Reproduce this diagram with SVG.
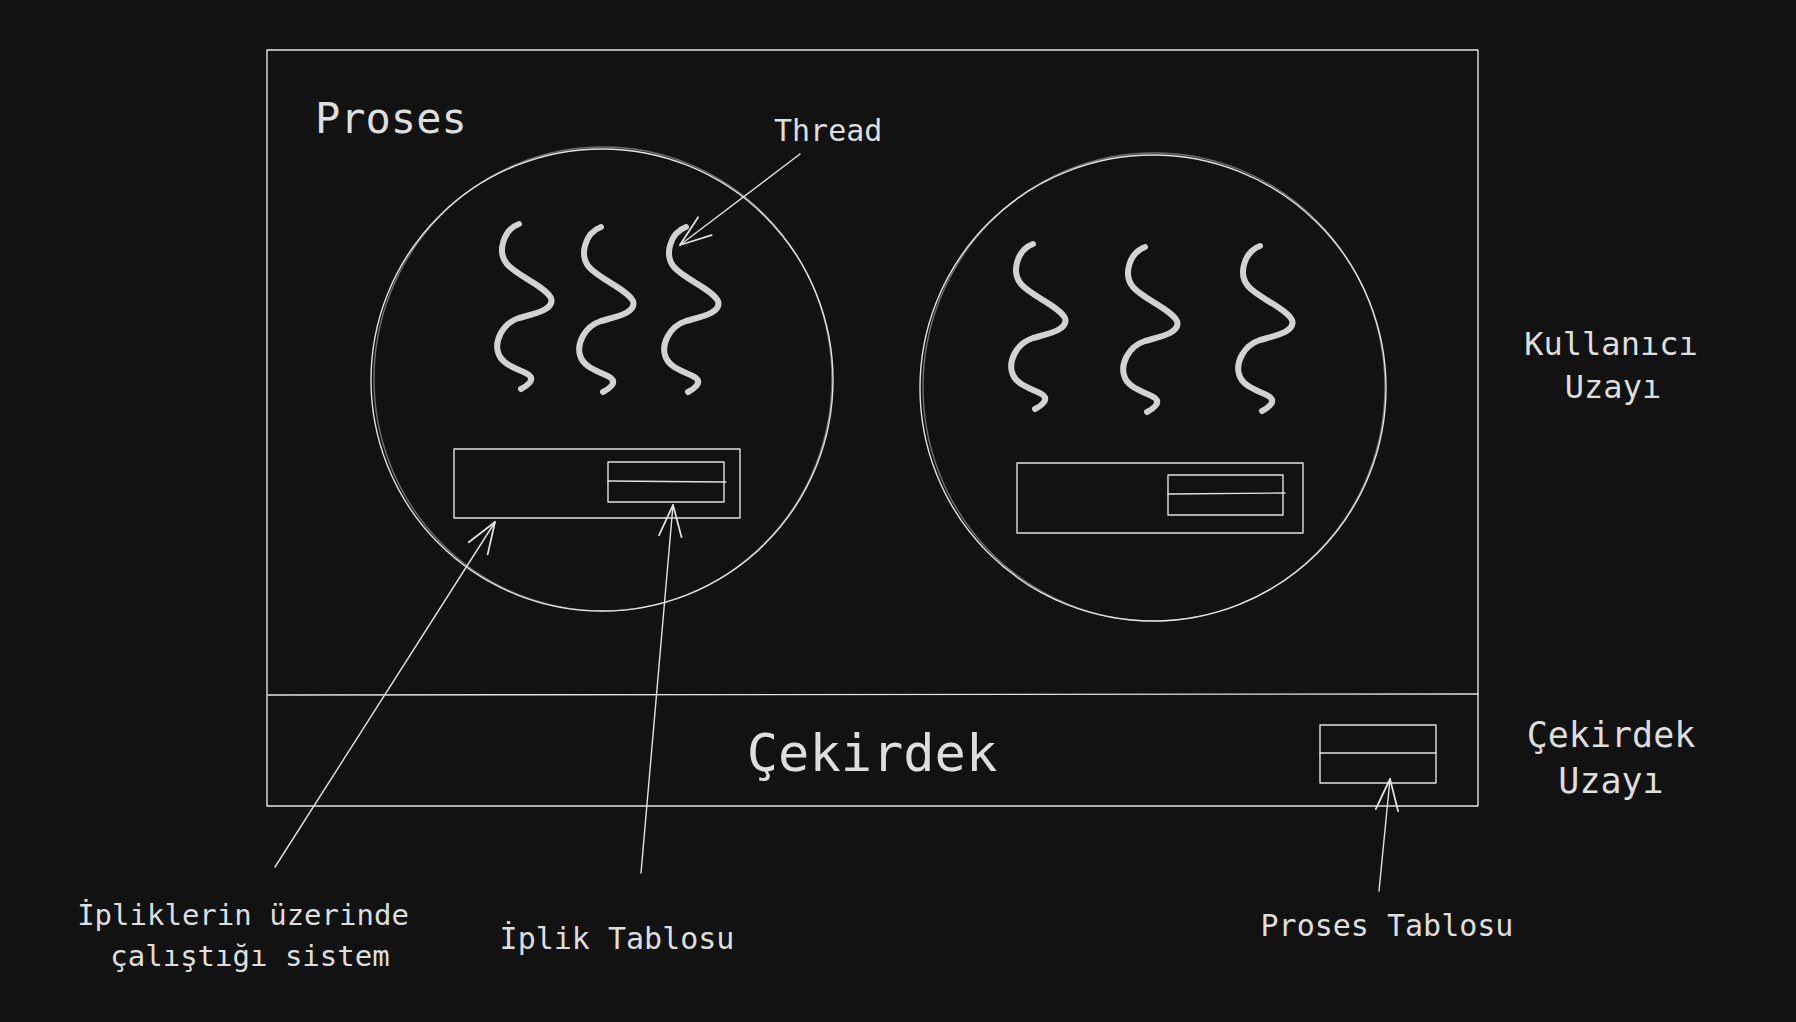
<svg xmlns="http://www.w3.org/2000/svg" width="1796" height="1022" viewBox="0 0 1796 1022">
<defs>
<style>
.ln{fill:none;stroke:#e2e2e2;stroke-width:1.4;stroke-linecap:round;stroke-linejoin:round}
.sq{fill:none;stroke:#d2d2d2;stroke-width:6;stroke-linecap:round;stroke-linejoin:round}
.t{font-family:"DejaVu Sans Mono","Liberation Mono",monospace;fill:#dedede}
.c{text-anchor:middle}
</style>
<path id="squig" d="M0,0 C-16,6 -22,28 -12,40 C-2,52 26,62 32,74 C36,86 14,90 0,94 C-18,100 -24,118 -21,128 C-18,142 4,146 10,151 C16,156 8,162 2,165"/>
<marker id="ah" markerUnits="userSpaceOnUse" markerWidth="40" markerHeight="40" refX="0" refY="0" viewBox="-30 -15 32 30" orient="auto" overflow="visible">
<path d="M-25,-9 L0,0 L-25,9" fill="none" stroke="#e2e2e2" stroke-width="1.4" stroke-linecap="round" stroke-linejoin="round"/>
</marker>
</defs>
<rect width="1796" height="1022" fill="#121212"/>

<g id="process-box">
<rect class="ln" x="267" y="50" width="1211" height="756"/>
<text class="t" x="315" y="133" font-size="42">Proses</text>
</g>

<g id="kernel-box">
<line class="ln" x1="268" y1="695" x2="1478" y2="694"/>
<text class="t c" x="872" y="771" font-size="52">Çekirdek</text>
</g>

<g id="process-table">
<rect class="ln" x="1320" y="725" width="116" height="58"/>
<line class="ln" x1="1320" y1="753" x2="1436" y2="753"/>
</g>

<g id="process-1">
<circle class="ln" cx="602" cy="380" r="231"/>
<ellipse class="ln" cx="603" cy="379" rx="229" ry="232" stroke-opacity="0.45"/>
<use href="#squig" class="sq" x="519" y="224"/>
<use href="#squig" class="sq" x="601" y="227"/>
<use href="#squig" class="sq" x="686" y="227"/>
<rect class="ln" x="454" y="449" width="286" height="69"/>
<rect class="ln" x="608" y="462" width="116" height="40"/>
<line class="ln" x1="608" y1="481" x2="726" y2="482"/>
</g>

<g id="process-2">
<circle class="ln" cx="1153" cy="388" r="233"/>
<ellipse class="ln" cx="1154" cy="387" rx="231" ry="234" stroke-opacity="0.45"/>
<use href="#squig" class="sq" x="1033" y="244"/>
<use href="#squig" class="sq" x="1145" y="247"/>
<use href="#squig" class="sq" x="1260" y="246"/>
<rect class="ln" x="1017" y="463" width="286" height="70"/>
<rect class="ln" x="1168" y="475" width="115" height="40"/>
<line class="ln" x1="1168" y1="494" x2="1285" y2="493"/>
</g>

<g id="label-thread">
<text class="t" x="774" y="141" font-size="30">Thread</text>
</g>
<g id="label-user-space">
<text class="t c" font-size="32"><tspan x="1611" y="355">Kullanıcı</tspan><tspan x="1613" y="398">Uzayı</tspan></text>
</g>
<g id="label-kernel-space">
<text class="t c" font-size="35"><tspan x="1611" y="747">Çekirdek</tspan><tspan x="1611" y="793">Uzayı</tspan></text>
</g>
<g id="label-system">
<text class="t c" font-size="29"><tspan x="243" y="925">İpliklerin üzerinde</tspan><tspan x="250" y="966">çalıştığı sistem</tspan></text>
</g>
<g id="label-thread-table">
<text class="t c" x="617" y="949" font-size="30">İplik Tablosu</text>
</g>
<g id="label-process-table">
<text class="t c" x="1387" y="936" font-size="30">Proses Tablosu</text>
</g>

<g id="connectors">
<line class="ln" x1="800" y1="154" x2="680" y2="245" marker-end="url(#ah)"/>
<line class="ln" x1="275" y1="867" x2="495" y2="522" marker-end="url(#ah)"/>
<line class="ln" x1="641" y1="873" x2="673" y2="505" marker-end="url(#ah)"/>
<line class="ln" x1="1379" y1="891" x2="1390" y2="779" marker-end="url(#ah)"/>
</g>
</svg>
